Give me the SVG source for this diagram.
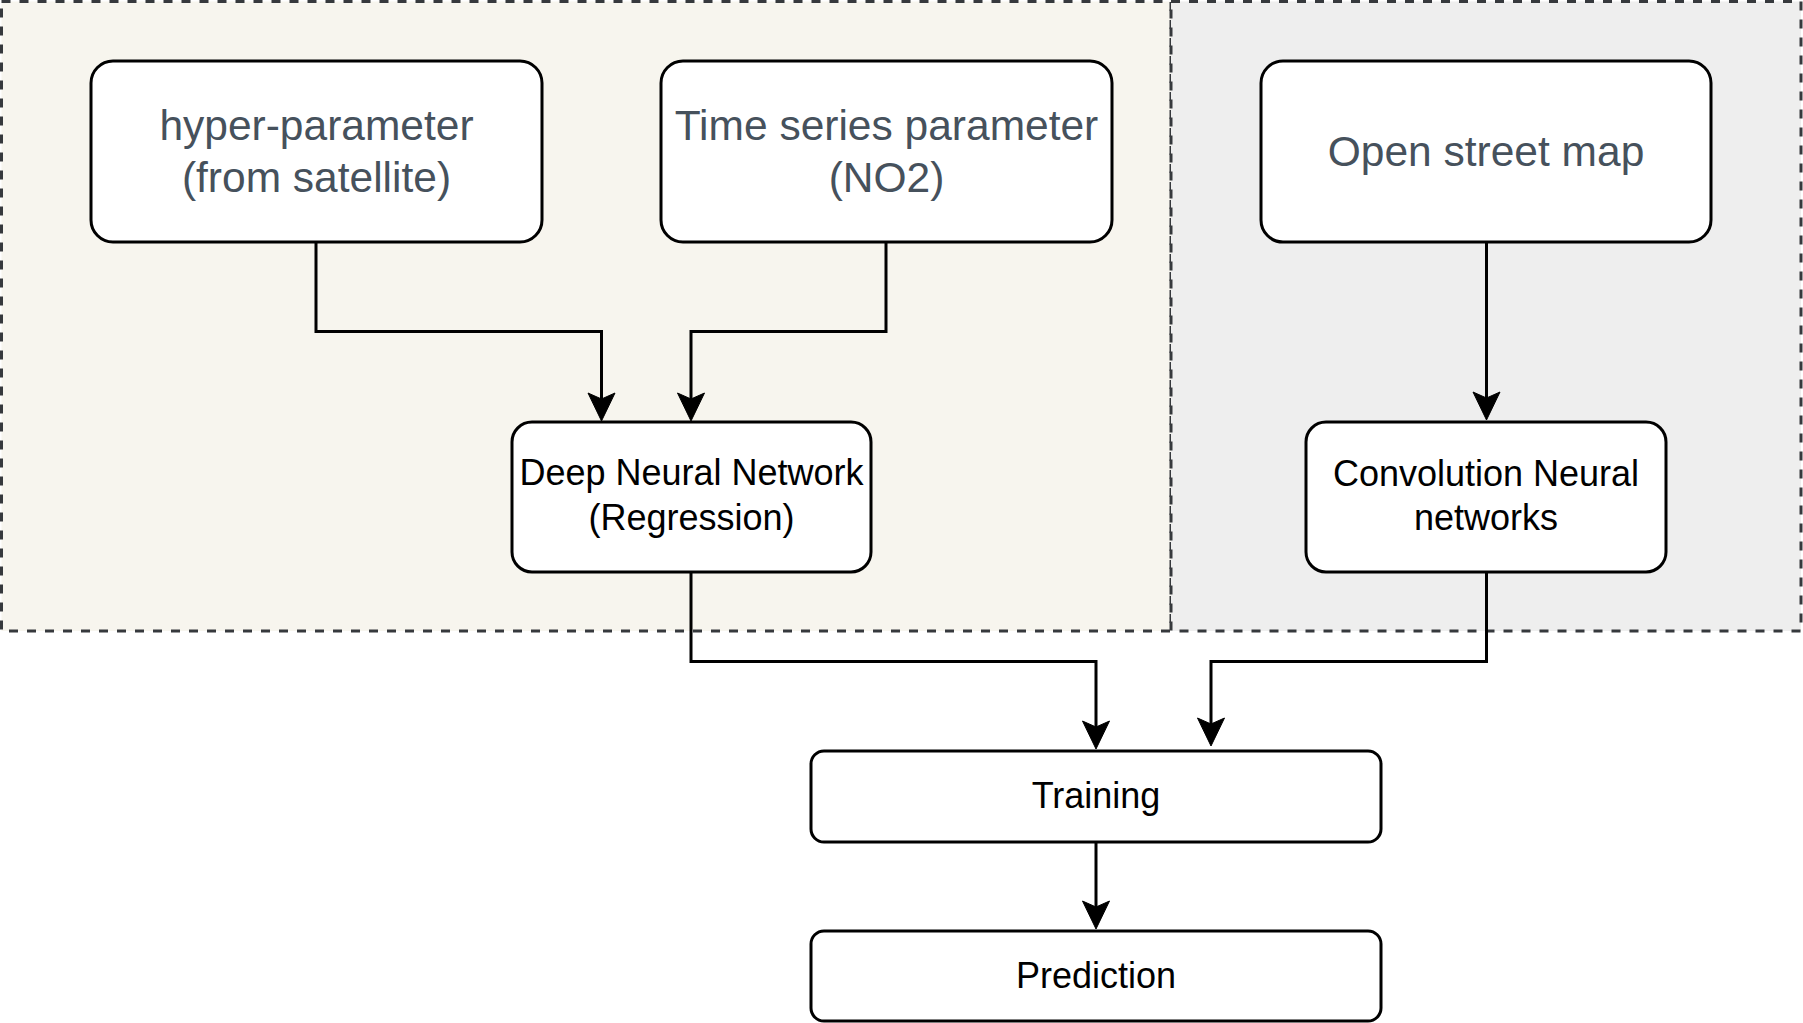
<svg xmlns="http://www.w3.org/2000/svg" xmlns:xlink="http://www.w3.org/1999/xlink" width="1803" height="1023" viewBox="0 0 1803 1023">
<defs>
<style>
.grp1{fill:#f7f5ee;stroke:#36393d;stroke-width:3;stroke-dasharray:9 9}
.grp2{fill:#eeeeee;stroke:#36393d;stroke-width:3;stroke-dasharray:9 9}
.box{fill:#ffffff;stroke:#000000;stroke-width:3}
.t1{font-family:"Liberation Sans",Arial,Helvetica,sans-serif;font-size:42.5px;fill:#46515c;text-anchor:middle}
.t2{font-family:"Liberation Sans",Arial,Helvetica,sans-serif;font-size:36px;fill:#000000;text-anchor:middle}
.edge{fill:none;stroke:#000000;stroke-width:3}
.head{fill:#000000;stroke:#000000;stroke-width:1;stroke-linejoin:miter}
</style>
<path id="ah" class="head" d="M0,0 L-13.5,-28 L0,-22 L13.5,-28 Z"/>
</defs>
<g id="group-regression"><rect class="grp1" x="1.5" y="1.5" width="1169.5" height="629.5"/></g>
<g id="group-cnn"><rect class="grp2" x="1171" y="1.5" width="630" height="629.5"/></g>
<g id="connectors">
<path class="edge" d="M316,242 V331.5 H601.5 V402"/>
<use href="#ah" xlink:href="#ah" x="601.5" y="421"/>
<path class="edge" d="M886,242 V331.5 H691 V402"/>
<use href="#ah" xlink:href="#ah" x="691" y="421"/>
<path class="edge" d="M1486.5,242 V401"/>
<use href="#ah" xlink:href="#ah" x="1486.5" y="420"/>
<path class="edge" d="M691,572 V661.5 H1096 V730"/>
<use href="#ah" xlink:href="#ah" x="1096" y="749"/>
<path class="edge" d="M1486.5,572 V661.5 H1211 V727"/>
<use href="#ah" xlink:href="#ah" x="1211" y="746"/>
<path class="edge" d="M1096,842 V910"/>
<use href="#ah" xlink:href="#ah" x="1096" y="929"/>
</g>
<g id="node-hyper"><rect class="box" x="91" y="61" width="451" height="181" rx="22"/>
<text class="t1" x="316.5" y="140">hyper-parameter</text><text class="t1" x="316.5" y="192">(from satellite)</text></g>
<g id="node-timeseries"><rect class="box" x="661" y="61" width="451" height="181" rx="22"/>
<text class="t1" x="886.5" y="140">Time series parameter</text><text class="t1" x="886.5" y="192">(NO2)</text></g>
<g id="node-osm"><rect class="box" x="1261" y="61" width="450" height="181" rx="22"/>
<text class="t1" x="1486" y="166">Open street map</text></g>
<g id="node-dnn"><rect class="box" x="512" y="422" width="359" height="150" rx="20"/>
<text class="t2" x="691.5" y="485">Deep Neural Network</text><text class="t2" x="691.5" y="530">(Regression)</text></g>
<g id="node-cnn"><rect class="box" x="1306" y="422" width="360" height="150" rx="20"/>
<text class="t2" x="1486" y="486">Convolution Neural</text><text class="t2" x="1486" y="530">networks</text></g>
<g id="node-training"><rect class="box" x="811" y="751" width="570" height="91" rx="13"/>
<text class="t2" x="1096" y="808">Training</text></g>
<g id="node-prediction"><rect class="box" x="811" y="931" width="570" height="90" rx="13"/>
<text class="t2" x="1096" y="988">Prediction</text></g>
</svg>
